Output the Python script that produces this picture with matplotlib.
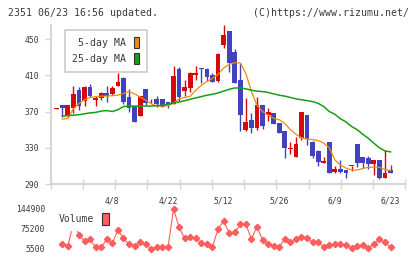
import numpy as np
import matplotlib
matplotlib.use("Agg")
import matplotlib.pyplot as plt
from matplotlib.patches import Patch

# daily candles, index 0 .. 60 (last = 6/23)
opens = [373, 377, 366, 373.5, 393.5, 382, 397, 382.5, 384.5, 390,
         389.5, 398, 407.5, 386, 376, 365, 394.5, 380, 383.5, 383.5,
         381, 378.5, 416.5, 393, 396, 410.5, 417.5, 417, 410.5, 404,
         443.5, 459, 436, 404.5, 349.5, 360.5, 352, 377, 366, 368.5,
         357.5, 348.5, 328.5, 320, 340.5, 366, 336.5, 326.5, 313.5, 336.5,
         303.5, 307, 305.5, 309.5, 334, 320, 319, 312, 317, 297,
         305.5]
highs = [374, 377, 377, 398, 397, 398.5, 400, 387, 392, 398,
         398, 413, 408, 395, 376, 387, 394.5, 383.5, 387, 383.5,
         381, 420, 419.5, 405, 414, 420, 417.5, 417.5, 412, 435,
         465.5, 459, 439, 424, 385, 368, 385.5, 377, 373.5, 368.5,
         357.5, 348.5, 336, 342, 369.5, 366, 338, 328, 320, 336.5,
         310, 316, 305.5, 310, 334, 320, 320.5, 317, 317, 327,
         311]
lows = [373, 364, 364, 368.5, 371.5, 376, 385.5, 376, 382.5, 381,
        388, 398, 378, 369, 358.5, 365, 377, 379, 375, 375,
        373.5, 378.5, 382, 387, 392, 405, 401.5, 404, 403, 403,
        440, 414, 401, 349, 348.5, 346, 349.5, 350.5, 359, 356.5,
        346.5, 319, 323, 320, 339, 333, 318.5, 310, 313.5, 302.5,
        302, 302, 296.5, 304.5, 308.5, 307.5, 307, 300, 295, 297,
        302]
closes = [374, 373.5, 377, 389, 376, 397, 387, 384.5, 390, 387,
          396.5, 402.5, 381, 374, 358.5, 387, 379, 381, 378, 375.5,
          378, 409, 385.5, 397, 412, 413, 416.5, 408.5, 403, 433.5,
          454.5, 424, 401, 366, 358.5, 352, 377, 354, 369, 356.5,
          346.5, 329.5, 329.5, 334, 369.5, 339.5, 321, 314.5, 315.5, 302.5,
          307, 303.5, 302.5, 310, 313.5, 313.5, 312, 317, 297, 302.5,
          302]

nan = np.nan
ma5 = [nan, 361.5, 362.5, 373, 379, 383, 385.5, 386.5, 387, 387,
       387.5, 388, 390, 392, 389.5, 386, 382.5, 378.5, 376, 376,
       376.5, 379, 384, 385.5, 387, 393.5, 399, 403, 406.5, 411,
       418, 422, 424, 423.5, 412, 392, 377, 370, 366, 362.5,
       361, 357, 350, 345, 341, 339.5, 339, 338, 335, 330,
       316.5, 311, 307.5, 305.5, 305.5, 307, 308.5, 308.5, 308.5, 306,
       305]
ma25 = [nan, 365, 365.5, 366, 366.5, 367.5, 368.5, 369, 370.5, 371,
        370, 372, 375.5, 376, 376, 376, 376, 376, 376.5, 377,
        378, 379.5, 380.5, 382, 383.5, 385, 386.5, 388, 389, 390.5,
        392.5, 394.5, 396, 396, 395, 393.5, 392.5, 392, 391, 389.5,
        388, 387, 385.5, 384, 383, 382, 381, 379, 375.5, 370,
        367, 362, 358.5, 353.5, 350, 345, 340.5, 335, 330, 326.5,
        325.5]
volume = [nan, 20700, 14900, 95000, 55000, 32400, 38300, 10200, 10200, 38300,
          24200, 71100, 41800, 20700, 16000, 27700, 20700, 5500, 10200, 10200,
          10200, 144900, 80400, 41800, 47700, 41800, 24200, 20700, 12500, 74600,
          102700, 61700, 62900, 91000, 91000, 39500, 82800, 35900, 20700, 16000,
          12500, 39500, 27700, 38300, 47700, 44100, 27700, 27700, 12500, 18400,
          20700, 20700, 18400, 6700, 16000, 18400, 6700, 20700, 39500, 27700,
          10200]

date_pos = [10, 20, 30, 40, 50, 60]
date_labels = ["4/8", "4/22", "5/12", "5/26", "6/9", "6/23"]
price_ticks = [290, 330, 370, 410, 450]
volume_ticks = [5500, 75200, 144900]

UP = "#d40a0a"
DOWN = "#4242be"
ORANGE = "#f08c0a"
GREEN = "#14a014"
VOLC = "#ff5c5c"
GRID = "#d6d6d6"
TXT = "#3a3a3a"
MONO = "DejaVu Sans Mono"

W, H = 420, 259
fig = plt.figure(figsize=(W / 100, H / 100), dpi=100)
fig.patch.set_facecolor("white")

x = np.arange(len(opens))
o = np.array(opens); c = np.array(closes)
hi = np.array(highs); lo = np.array(lows)
colors = [UP if cc >= oo else DOWN for oo, cc in zip(o, c)]

xlim = (-1.08, 62.66)

ax = fig.add_axes([50.7 / W, 1 - 184 / H, 354.6 / W, 159 / H])
ax.vlines(x, lo, hi, colors=colors, linewidth=1.0, zorder=3)
ax.bar(x, np.maximum(np.abs(c - o), 1.0), bottom=np.minimum(o, c),
       width=0.86, color=colors, linewidth=0, zorder=4)
ax.plot(x, ma5, color=ORANGE, lw=0.9, zorder=5)
ax.plot(x, ma25, color=GREEN, lw=1.1, zorder=5)

ax.set_xlim(*xlim)
ax.set_ylim(290, 465.5)
for s in ["top", "right"]:
    ax.spines[s].set_visible(False)
for s in ["left", "bottom"]:
    ax.spines[s].set_color(GRID)
    ax.spines[s].set_linewidth(1.5)
ax.set_yticks(price_ticks)
ax.tick_params(axis="y", direction="out", length=4.5, width=1, color=GRID,
               labelsize=5.8, labelcolor=TXT, pad=4)
ax.set_xticks(date_pos)
ax.set_xticklabels(date_labels)
ax.set_xticks(np.linspace(xlim[0], xlim[1], 12), minor=True)
ax.tick_params(axis="x", which="major", length=0, labelsize=5.8, labelcolor=TXT, pad=9)
ax.tick_params(axis="x", which="minor", direction="inout", length=6.5, width=1, color=GRID)
for t in ax.get_xticklabels() + ax.get_yticklabels():
    t.set_family(MONO)

leg = ax.legend([Patch(fc=ORANGE, ec="#333333", lw=0.8), Patch(fc=GREEN, ec="#333333", lw=0.8)],
                ["5-day MA", "25-day MA"], loc="upper left",
                bbox_to_anchor=(65 / W, 1 - 30 / H), bbox_transform=fig.transFigure,
                markerfirst=False, prop={"family": MONO, "size": 7.1}, labelcolor=TXT,
                handlelength=0.55, handleheight=1.35, handletextpad=0.75,
                borderpad=0.75, labelspacing=0.5, fancybox=False, framealpha=1,
                edgecolor="#cccccc", borderaxespad=0)
leg.get_frame().set_linewidth(1.2)

# volume panel
vax = fig.add_axes([50.7 / W, 1 - 248.7 / H, 354.6 / W, 39.7 / H])
vax.plot(x, volume, color=VOLC, lw=0.8, marker="D", ms=3.2, mec=VOLC, mfc=VOLC, clip_on=False)
vax.set_xlim(*xlim)
vax.set_ylim(5500, 144900)
for s in vax.spines.values():
    s.set_visible(False)
vax.set_xticks([])
vax.set_yticks(volume_ticks)
vax.tick_params(axis="y", length=0, labelsize=5.8, labelcolor=TXT, pad=4)
for t in vax.get_yticklabels():
    t.set_family(MONO)
vleg = vax.legend([Patch(fc=VOLC, ec="#333333", lw=0.8)], ["Volume"], loc="upper left",
                  bbox_to_anchor=(54 / W, 1 - 208 / H), bbox_transform=fig.transFigure,
                  markerfirst=False, prop={"family": MONO, "size": 7.0}, labelcolor=TXT,
                  handlelength=0.68, handleheight=1.55, handletextpad=0.8,
                  borderpad=0.5, fancybox=False, framealpha=1, facecolor="white",
                  edgecolor="white", borderaxespad=0)

fig.text(8 / W, 1 - 12.7 / H, "2351 06/23 16:56 updated.", family=MONO, size=7.1,
         color=TXT, va="center", ha="left")
fig.text(409 / W, 1 - 12.7 / H, "(C)https://www.rizumu.net/", family=MONO, size=7.1,
         color=TXT, va="center", ha="right")

fig.savefig("out.png", dpi=100)
